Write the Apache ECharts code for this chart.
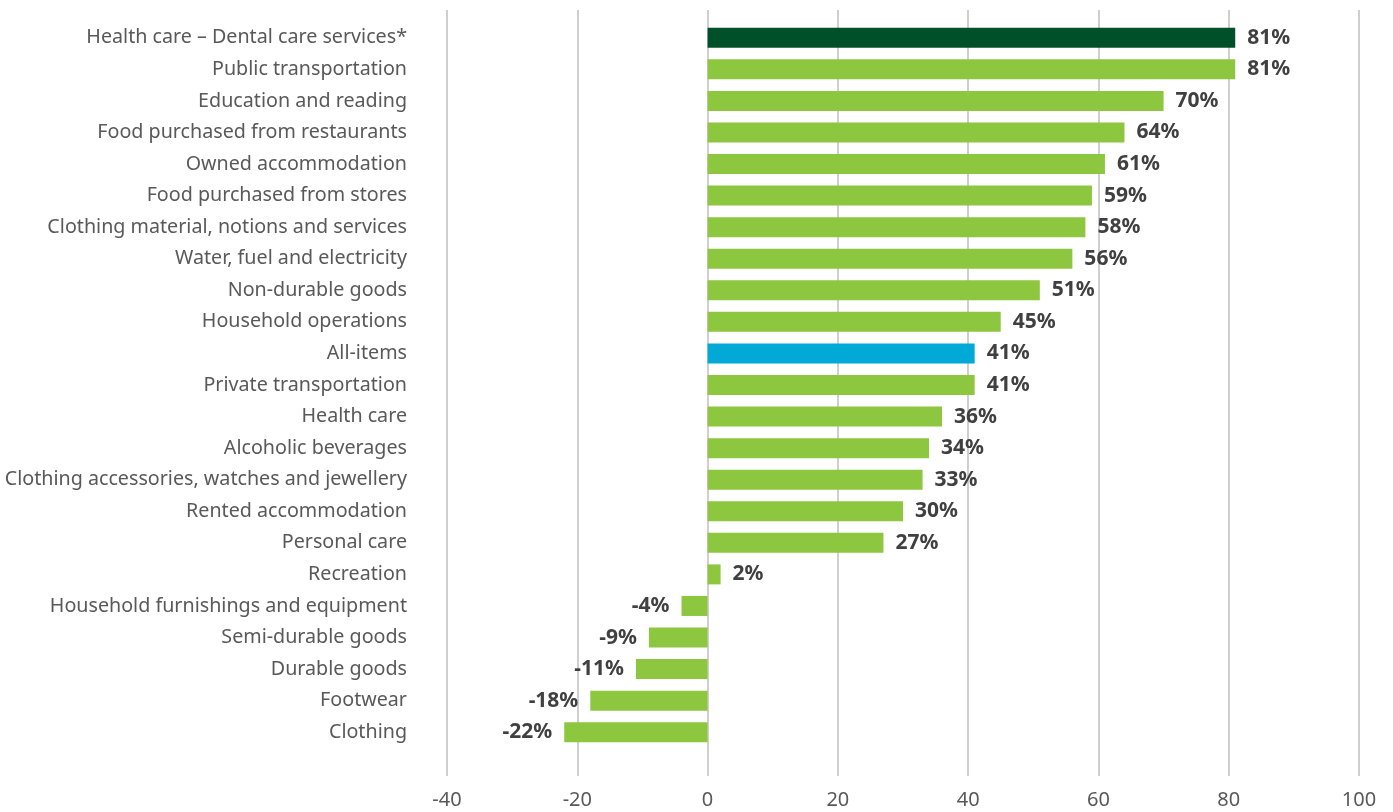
<!DOCTYPE html>
<html>
<head>
<meta charset="utf-8">
<script src="https://cdn.jsdelivr.net/npm/echarts@6/dist/echarts.min.js"></script>
<style>html,body{margin:0;padding:0;background:#fff}#c{width:1393px;height:812px}</style>
</head>
<body>
<div id="c"></div>
<script>
const categories = [
  "Health care – Dental care services*",
  "Public transportation",
  "Education and reading",
  "Food purchased from restaurants",
  "Owned accommodation",
  "Food purchased from stores",
  "Clothing material, notions and services",
  "Water, fuel and electricity",
  "Non-durable goods",
  "Household operations",
  "All-items",
  "Private transportation",
  "Health care",
  "Alcoholic beverages",
  "Clothing accessories, watches and jewellery",
  "Rented accommodation",
  "Personal care",
  "Recreation",
  "Household furnishings and equipment",
  "Semi-durable goods",
  "Durable goods",
  "Footwear",
  "Clothing"
];
const values = [81, 81, 70, 64, 61, 59, 58, 56, 51, 45, 41, 41, 36, 34, 33, 30, 27, 2, -4, -9, -11, -18, -22];
const xTicks = { min: -40, max: 100, interval: 20 };
const highlight = { "Health care – Dental care services*": "#00502A", "All-items": "#00A9D6" };
const baseColor = "#8DC63F";

const FONT = "'Noto Sans', sans-serif";
const chart = echarts.init(document.getElementById('c'), null, { renderer: 'canvas' });
const barData = values.map((v, i) => ({
  value: v,
  itemStyle: { color: highlight[categories[i]] || baseColor },
  label: { position: v >= 0 ? 'right' : 'left' }
}));
chart.setOption({
  animation: false,
  grid: [
    { left: 447, right: 34, top: 10, bottom: 36, containLabel: false, outerBoundsMode: 'none' },
    { left: 447, right: 34, top: 22, bottom: 64, containLabel: false, outerBoundsMode: 'none' }
  ],
  xAxis: [
    {
      gridIndex: 0, type: 'value', min: xTicks.min, max: xTicks.max, interval: xTicks.interval,
      axisLine: { show: false }, axisTick: { show: false },
      splitLine: { show: true, lineStyle: { color: '#BFBFBF', width: 1.5 } },
      axisLabel: { color: '#595959', fontSize: 20, fontFamily: FONT, margin: 14 }
    },
    {
      gridIndex: 1, type: 'value', min: xTicks.min, max: xTicks.max, interval: xTicks.interval,
      show: false
    }
  ],
  yAxis: [
    { gridIndex: 0, type: 'category', data: categories, show: false, inverse: true },
    {
      gridIndex: 1, type: 'category', data: categories, inverse: true,
      axisLine: { show: false }, axisTick: { show: false },
      axisLabel: { color: '#595959', fontSize: 19.7, fontFamily: FONT, margin: 40, padding: [3, 0, 0, 0] }
    }
  ],
  series: [{
    type: 'bar', xAxisIndex: 1, yAxisIndex: 1,
    data: barData, barWidth: 20,
    label: {
      show: true, formatter: '{c}%', distance: 12, padding: [4, 0, 0, 0],
      color: '#404040', fontSize: 21, fontWeight: 'bold', fontFamily: FONT
    }
  }]
});
</script>
</body>
</html>
